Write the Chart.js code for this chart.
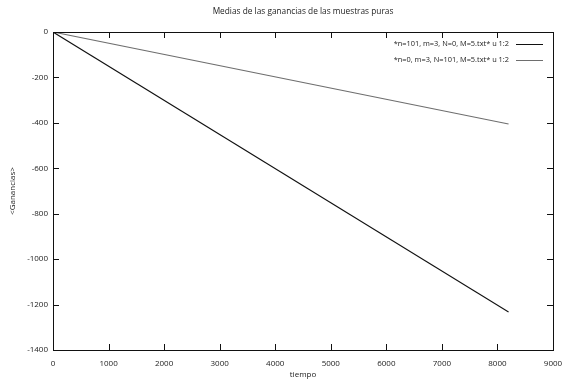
<!DOCTYPE html>
<html>
<head>
<meta charset="utf-8">
<script src="https://cdn.jsdelivr.net/npm/chart.js@4.4.0/dist/chart.umd.min.js"></script>
<style>
  html, body { margin: 0; padding: 0; background: #fff; }
  #wrap { width: 563px; height: 380px; }
</style>
</head>
<body>
<div id="wrap"><canvas id="chart"></canvas></div>
<script>
// data (gnuplot output, straight lines from origin)
const tiempo = [0, 8200];
const gananciasPuras1 = [0, -1233];
const gananciasPuras2 = [0, -405];
const seriesLabels = [
  "*n=101, m=3, N=0, M=5.txt* u 1:2",
  "*n=0, m=3, N=101, M=5.txt* u 1:2",
];
const seriesColors = ["#111111", "#6e6e6e"];
const xTicks = [0, 1000, 2000, 3000, 4000, 5000, 6000, 7000, 8000, 9000];
const yTicks = [0, -200, -400, -600, -800, -1000, -1200, -1400];
const chartTitle = "Medias de las ganancias de las muestras puras";

const FONT = "'Open Sans', 'Noto Sans', sans-serif";
const toPoints = (xs, ys) => xs.map((x, i) => ({ x, y: ys[i] }));

// gnuplot-ish frame: full box, ticks pointing inwards on all four sides,
// title centred over the plot, legend inside the top-right corner
const gnuplotFrame = {
  id: "gnuplotFrame",
  afterDraw(chart) {
    const { ctx, chartArea: a, scales } = chart;
    ctx.save();
    ctx.strokeStyle = "#111";
    ctx.lineWidth = 1;
    ctx.strokeRect(a.left + 0.5, a.top + 0.5, a.right - a.left, a.bottom - a.top);
    const tl = 6;
    ctx.beginPath();
    xTicks.forEach((v) => {
      const px = Math.round(scales.x.getPixelForValue(v)) + 0.5;
      ctx.moveTo(px, a.bottom);
      ctx.lineTo(px, a.bottom - tl);
      ctx.moveTo(px, a.top);
      ctx.lineTo(px, a.top + tl);
    });
    yTicks.forEach((v) => {
      const py = Math.round(scales.y.getPixelForValue(v)) + 0.5;
      ctx.moveTo(a.left, py);
      ctx.lineTo(a.left + tl, py);
      ctx.moveTo(a.right, py);
      ctx.lineTo(a.right - tl, py);
    });
    ctx.stroke();

    ctx.fillStyle = "#222";
    ctx.textBaseline = "middle";
    ctx.textAlign = "center";
    ctx.font = "8.3px " + FONT;
    ctx.fillText(chartTitle, (a.left + a.right) / 2, 12);

    ctx.font = "7.4px " + FONT;
    ctx.textAlign = "right";
    chart.data.datasets.forEach((ds, i) => {
      const y = a.top + 12 + i * 16;
      ctx.fillText(ds.label, a.right - 44, y);
      ctx.strokeStyle = ds.borderColor;
      ctx.beginPath();
      ctx.moveTo(a.right - 37, Math.round(y) + 0.5);
      ctx.lineTo(a.right - 10, Math.round(y) + 0.5);
      ctx.stroke();
    });
    ctx.restore();
  },
};

new Chart(document.getElementById("chart"), {
  type: "scatter",
  data: {
    datasets: [
      {
        label: seriesLabels[0],
        data: toPoints(tiempo, gananciasPuras1),
        borderColor: seriesColors[0],
        backgroundColor: seriesColors[0],
        showLine: true,
        borderWidth: 1.1,
        pointRadius: 0,
      },
      {
        label: seriesLabels[1],
        data: toPoints(tiempo, gananciasPuras2),
        borderColor: seriesColors[1],
        backgroundColor: seriesColors[1],
        showLine: true,
        borderWidth: 1.1,
        pointRadius: 0,
      },
    ],
  },
  options: {
    responsive: true,
    maintainAspectRatio: false,
    animation: false,
    layout: { padding: { left: 0, right: 10, top: 32, bottom: 0 } },
    plugins: {
      legend: { display: false },
      tooltip: { enabled: false },
      title: { display: false },
    },
    scales: {
      x: {
        type: "linear",
        min: 0,
        max: 9000,
        afterBuildTicks: (s) => { s.ticks = xTicks.map((v) => ({ value: v })); },
        afterFit: (s) => {
          s.height = 30;
          s.paddingLeft = 0;
          s.paddingRight = 0;
        },
        border: { display: false },
        grid: { display: false, drawTicks: false },
        ticks: {
          color: "#222", padding: 9, maxRotation: 0,
          font: { family: FONT, size: 8 },
          callback: (v) => String(v),
        },
        title: {
          display: true,
          text: "tiempo",
          color: "#222",
          font: { family: FONT, size: 8 },
          padding: { top: 0, bottom: 0 },
        },
      },
      y: {
        type: "linear",
        min: -1400,
        max: 0,
        afterBuildTicks: (s) => { s.ticks = yTicks.map((v) => ({ value: v })); },
        afterFit: (s) => {
          s.width = 53;
          s.paddingTop = 0;
          s.paddingBottom = 0;
        },
        border: { display: false },
        grid: { display: false, drawTicks: false },
        ticks: {
          color: "#222", padding: 5,
          font: { family: FONT, size: 8 },
          callback: (v) => String(v),
        },
        title: {
          display: true,
          text: "<Ganancias>",
          color: "#222",
          font: { family: FONT, size: 8 },
          padding: { top: 8, bottom: 0 },
        },
      },
    },
  },
  plugins: [gnuplotFrame],
});
</script>
</body>
</html>
